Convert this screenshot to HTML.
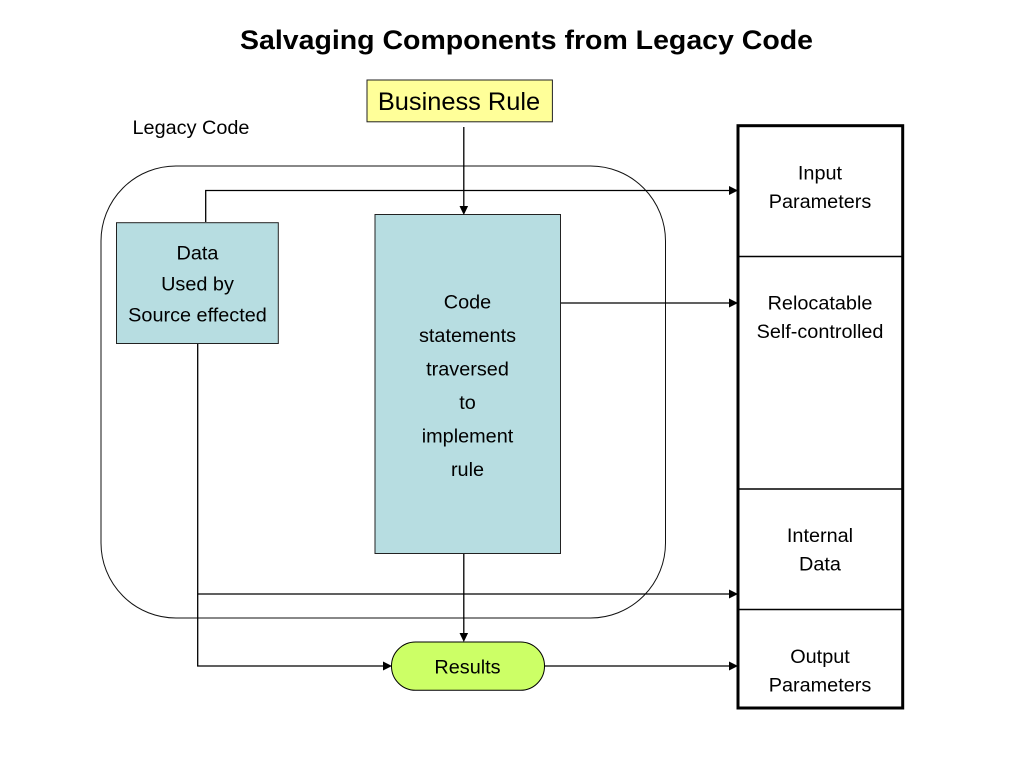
<!DOCTYPE html>
<html><head><meta charset="utf-8"><style>html,body{margin:0;padding:0;background:#fff}svg{display:block}text{font-family:"Liberation Sans",Arial,sans-serif;fill:#000}</style></head><body>
<svg width="1024" height="768" viewBox="0 0 1024 768" xmlns="http://www.w3.org/2000/svg">
<rect width="1024" height="768" fill="#fff"/>
<text x="526.500" y="49" font-size="27" font-weight="bold" text-anchor="middle" textLength="573" lengthAdjust="spacingAndGlyphs">Salvaging Components from Legacy Code</text>
<rect x="367" y="80" width="185.400" height="41.800" fill="#ffff99" stroke="#222" stroke-width="1"/>
<text x="459" y="110" font-size="25.400" text-anchor="middle">Business Rule</text>
<text x="191" y="134" font-size="19.850" text-anchor="middle">Legacy Code</text>
<rect x="101" y="166" width="564.500" height="452" rx="75" ry="75" fill="none" stroke="#111" stroke-width="1"/>
<rect x="116.500" y="222.700" width="161.800" height="120.800" fill="#b7dde1" stroke="#222" stroke-width="1"/>
<g font-size="19.850" text-anchor="middle"><text x="197.500" y="259.500">Data</text><text x="197.500" y="290.500">Used by</text><text x="197.500" y="321.500">Source effected</text></g>
<rect x="375" y="214.500" width="185.500" height="339" fill="#b7dde1" stroke="#222" stroke-width="1"/>
<g font-size="19.850" text-anchor="middle"><text x="467.500" y="308.500">Code</text><text x="467.500" y="342">statements</text><text x="467.500" y="375.500">traversed</text><text x="467.500" y="409">to</text><text x="467.500" y="442.500">implement</text><text x="467.500" y="476">rule</text></g>
<rect x="738" y="125.700" width="164.700" height="582.300" fill="#fff" stroke="#000" stroke-width="3"/>
<g stroke="#000" stroke-width="1.500"><line x1="738" y1="256.500" x2="903" y2="256.500"/><line x1="738" y1="489" x2="903" y2="489"/><line x1="738" y1="609.500" x2="903" y2="609.500"/></g>
<g font-size="19.850" text-anchor="middle"><text x="820" y="179.300">Input</text><text x="820" y="207.800">Parameters</text><text x="820" y="309.300">Relocatable</text><text x="820" y="338">Self-controlled</text><text x="820" y="541.800">Internal</text><text x="820" y="570.300">Data</text><text x="820" y="662.800">Output</text><text x="820" y="691.300">Parameters</text></g>
<rect x="391.500" y="642" width="153" height="48.300" rx="24" ry="24" fill="#ccff66" stroke="#000" stroke-width="1"/>
<text x="467.500" y="673.300" font-size="19.850" text-anchor="middle">Results</text>
<g fill="none" stroke="#000" stroke-width="1.300">
<path d="M463.800 127V207"/><path d="M205.700 222V190.500H730"/><path d="M561 303H730"/><path d="M197.700 344V666H384"/><path d="M197.700 594H730"/><path d="M463.800 554V634"/><path d="M545 666H730"/>
</g>
<g fill="#000">
<path d="M463.800 215l-4.300 -9h8.600z"/><path d="M738 190.500l-9 -4.500v9z"/><path d="M738 303l-9 -4.500v9z"/><path d="M738 594l-9 -4.500v9z"/><path d="M738 666l-9 -4.500v9z"/><path d="M392 666l-9 -4.500v9z"/><path d="M463.800 642l-4.300 -9h8.600z"/>
</g>
</svg>
</body></html>
